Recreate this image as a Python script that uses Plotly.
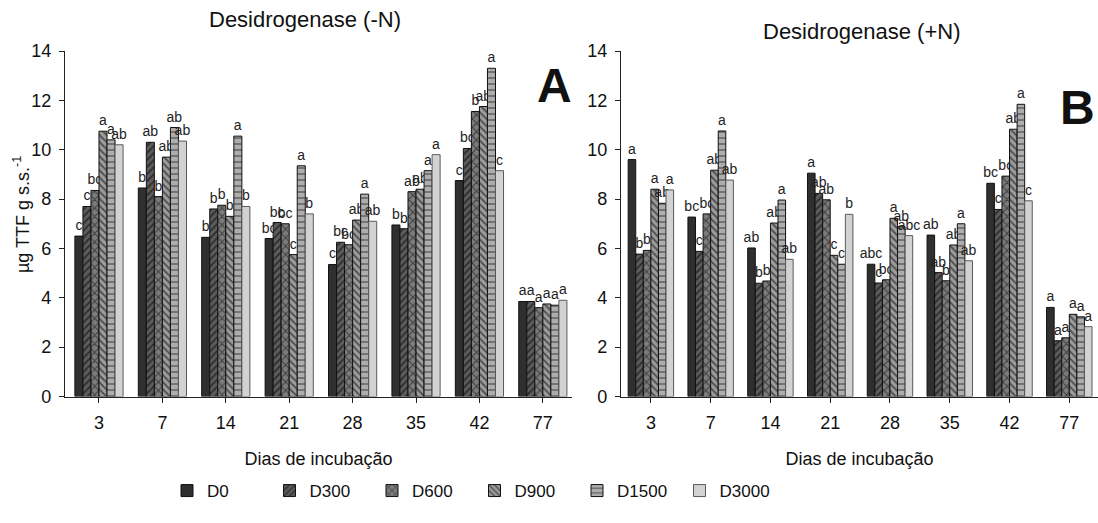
import plotly.graph_objects as go

# Incubation days (categories)
days = ["3", "7", "14", "21", "28", "35", "42", "77"]
doses = ["D0", "D300", "D600", "D900", "D1500", "D3000"]

# Dehydrogenase activity (µg TTF g s.s.-1) without nitrogen (-N)
a_d0 = [6.5, 8.45, 6.45, 6.4, 5.35, 6.95, 8.75, 3.85]
a_d300 = [7.7, 10.3, 7.6, 7.05, 6.25, 6.8, 10.05, 3.85]
a_d600 = [8.35, 8.1, 7.75, 7.0, 6.15, 8.3, 11.55, 3.6]
a_d900 = [10.75, 9.7, 7.3, 5.75, 7.15, 8.4, 11.75, 3.75]
a_d1500 = [10.4, 10.9, 10.55, 9.35, 8.2, 9.15, 13.3, 3.7]
a_d3000 = [10.2, 10.35, 7.7, 7.4, 7.1, 9.8, 9.15, 3.9]

# Significance letters (-N)
a_l0 = ["c", "b", "b", "bc", "c", "b", "c", "a"]
a_l300 = ["c", "ab", "b", "bc", "bc", "b", "bc", "a"]
a_l600 = ["bc", "b", "b", "bc", "bc", "ab", "b", "a"]
a_l900 = ["a", "ab", "b", "c", "ab", "ab", "ab", "a"]
a_l1500 = ["a", "ab", "a", "a", "a", "a", "a", "a"]
a_l3000 = ["ab", "ab", "b", "b", "ab", "a", "c", "a"]

# Dehydrogenase activity with nitrogen (+N)
b_d0 = [9.6, 7.27, 6.02, 9.05, 5.36, 6.54, 8.64, 3.61]
b_d300 = [5.77, 5.88, 4.59, 8.23, 4.6, 5.02, 7.58, 2.26]
b_d600 = [5.92, 7.4, 4.68, 7.97, 4.73, 4.69, 8.93, 2.38]
b_d900 = [8.4, 9.17, 7.03, 5.72, 7.22, 6.14, 10.83, 3.33]
b_d1500 = [7.83, 10.76, 7.96, 5.36, 6.88, 7.0, 11.84, 3.23]
b_d3000 = [8.37, 8.77, 5.56, 7.38, 6.52, 5.5, 7.93, 2.83]

# Significance letters (+N)
b_l0 = ["a", "bc", "ab", "a", "abc", "ab", "bc", "a"]
b_l300 = ["b", "c", "b", "ab", "c", "ab", "c", "a"]
b_l600 = ["b", "bc", "b", "ab", "bc", "b", "bc", "a"]
b_l900 = ["a", "ab", "ab", "c", "a", "ab", "ab", "a"]
b_l1500 = ["ab", "a", "a", "c", "ab", "a", "a", "a"]
b_l3000 = ["a", "ab", "ab", "b", "abc", "ab", "c", "a"]

panel_a = [a_d0, a_d300, a_d600, a_d900, a_d1500, a_d3000]
panel_a_letters = [a_l0, a_l300, a_l600, a_l900, a_l1500, a_l3000]
panel_b = [b_d0, b_d300, b_d600, b_d900, b_d1500, b_d3000]
panel_b_letters = [b_l0, b_l300, b_l600, b_l900, b_l1500, b_l3000]

# Fill / hatch style for each dose
styles = [
    dict(color="#2f2f2f", line="#111111", shape="", size=6, solidity=0.3),
    dict(color="#5c5c5c", line="#111111", shape="/", size=5, solidity=0.35),
    dict(color="#7c7c7c", line="#111111", shape="x", size=6, solidity=0.3),
    dict(color="#9c9c9c", line="#111111", shape="\\", size=5, solidity=0.35),
    dict(color="#adadad", line="#111111", shape="-", size=6, solidity=0.22),
    dict(color="#d2d2d2", line="#5a5a5a", shape="", size=6, solidity=0.3),
]

FONT = "Arial, Liberation Sans, sans-serif"
LETTER_FONT = dict(family=FONT, size=14, color="#222222")

fig = go.Figure()

for panel, (values, letters, xa, ya) in enumerate(
    [(panel_a, panel_a_letters, "x", "y"), (panel_b, panel_b_letters, "x2", "y2")]
):
    for i, name in enumerate(doses):
        st = styles[i]
        fig.add_trace(
            go.Bar(
                x=days,
                y=values[i],
                name=name,
                legendgroup=name,
                showlegend=(panel == 0),
                xaxis=xa,
                yaxis=ya,
                text=letters[i],
                textposition="outside",
                constraintext="none",
                cliponaxis=False,
                textfont=LETTER_FONT,
                outsidetextfont=LETTER_FONT,
                insidetextfont=LETTER_FONT,
                hoverinfo="x+y+name",
                marker=dict(
                    color=st["color"],
                    line=dict(color=st["line"], width=1),
                    pattern=dict(
                        shape=st["shape"],
                        fgcolor="#000000",
                        size=st["size"],
                        solidity=st["solidity"],
                        fillmode="overlay",
                    ),
                ),
            )
        )

axis_common = dict(
    showline=True,
    linecolor="#222222",
    linewidth=1.3,
    ticks="outside",
    ticklen=5,
    tickcolor="#222222",
    showgrid=False,
    zeroline=False,
    automargin=False,
    tickfont=dict(family=FONT, size=18, color="#111111"),
)

ydom = [1 - 396.5 / 523, 1 - 51 / 523]
xtitle = dict(text="Dias de incubação", font=dict(family=FONT, size=18), standoff=20)

fig.update_layout(
    width=1098,
    height=523,
    margin=dict(l=0, r=0, t=0, b=0, autoexpand=False),
    plot_bgcolor="white",
    paper_bgcolor="white",
    barmode="group",
    bargap=0.24,
    bargroupgap=0,
    font=dict(family=FONT, color="#111111"),
    xaxis=dict(
        axis_common,
        domain=[65 / 1098, 572 / 1098],
        type="category",
        range=[-0.536, 7.46],
        ticklabelstandoff=5,
        title=xtitle,
    ),
    xaxis2=dict(
        axis_common,
        domain=[621 / 1098, 1.0],
        type="category",
        range=[-0.5, 7.48],
        anchor="y2",
        ticklabelstandoff=5,
        title=xtitle,
    ),
    yaxis=dict(axis_common, domain=ydom, range=[0, 14], dtick=2, ticklabelstandoff=4),
    yaxis2=dict(axis_common, domain=ydom, range=[0, 14], dtick=2, anchor="x2",
                ticklabelstandoff=4),
    legend=dict(
        orientation="h",
        x=167 / 1098,
        xanchor="left",
        y=1 - 491 / 523,
        yanchor="middle",
        entrywidth=57.5,
        entrywidthmode="pixels",
        font=dict(family=FONT, size=17),
        traceorder="normal",
    ),
)

annotations = [
    dict(text="Desidrogenase (-N)", x=305 / 1098, y=1 - 19 / 523, font=dict(size=22)),
    dict(text="Desidrogenase (+N)", x=861 / 1098, y=1 - 31 / 523, font=dict(size=22)),
    dict(text="<b>A</b>", x=554 / 1098, y=1 - 85 / 523, font=dict(size=48)),
    dict(text="<b>B</b>", x=1077 / 1098, y=1 - 108 / 523, font=dict(size=48)),
    dict(text="µg TTF g s.s.<sup>-1</sup>", x=21 / 1098, y=1 - 215 / 523,
         textangle=-90, font=dict(size=18)),
]
for ann in annotations:
    ann.update(xref="paper", yref="paper", showarrow=False,
               xanchor="center", yanchor="middle")
    ann["font"].update(family=FONT, color="#111111")
fig.update_layout(annotations=annotations)

fig.write_html("out.html")
